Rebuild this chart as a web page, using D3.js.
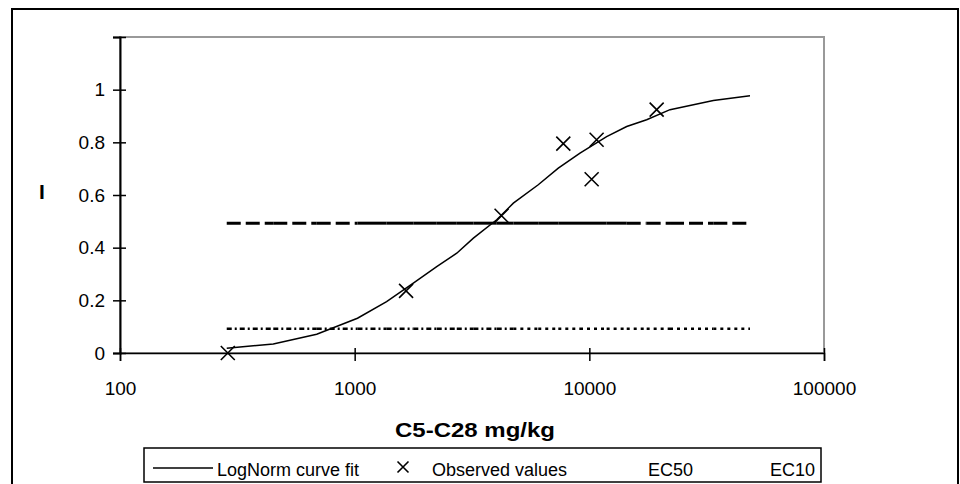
<!DOCTYPE html>
<html>
<head>
<meta charset="utf-8">
<script src="https://cdn.jsdelivr.net/npm/d3@7/dist/d3.min.js"></script>
<style>
    body { margin: 0; background: #fff; }
    svg text { font-family: "Liberation Sans", Arial, sans-serif; fill: #000; }
</style>
</head>
<body>
<div id="chart"></div>
<script>
// Data
var curveX = [285, 450, 689, 1028, 1368, 1778, 2237, 2723, 3206, 4030, 4745, 6058,
    7375, 9125, 11850, 14430, 17550, 22070, 33760, 48380];
var curveY = [0.018, 0.034, 0.071, 0.132, 0.195, 0.265, 0.328, 0.379, 0.436, 0.506, 0.569, 0.639,
    0.702, 0.759, 0.822, 0.860, 0.886, 0.924, 0.959, 0.977];
var obsX = [288, 1656, 4227, 7745, 10230, 10740, 19360];
var obsY = [0.0, 0.236, 0.521, 0.795, 0.660, 0.810, 0.924];
var ec50 = 0.493;
var ec10 = 0.092;
var xTicks = [100, 1000, 10000, 100000];
var yTicks = [0, 0.2, 0.4, 0.6, 0.8, 1, 1.2];
var legendLabels = ["LogNorm curve fit", "Observed values", "EC50", "EC10"];

var width = 960, height = 484;
var svg = d3.select("#chart").append("svg")
    .attr("width", width)
    .attr("height", height);

// outer chart border
svg.append("rect")
    .attr("x", 12).attr("y", 9)
    .attr("width", 946).attr("height", 520)
    .attr("fill", "none").attr("stroke", "#000").attr("stroke-width", 2);

var x = d3.scaleLog().domain([100, 100000]).range([120, 824]);
var y = d3.scaleLinear().domain([0, 1.2]).range([353, 37]);

// plot area frame (grey)
svg.append("rect")
    .attr("x", 120).attr("y", 37)
    .attr("width", 704).attr("height", 316)
    .attr("fill", "none").attr("stroke", "#999").attr("stroke-width", 2);

// x axis
var xAxis = svg.append("g")
    .attr("transform", "translate(0,353)")
    .call(d3.axisBottom(x).tickValues(xTicks).tickFormat(d3.format("d"))
        .tickSize(8).tickPadding(21));
xAxis.select(".domain").attr("stroke", "#000").attr("stroke-width", 1.5);
xAxis.selectAll(".tick line").attr("y1", -5).attr("stroke-width", 1.5);
xAxis.selectAll("text").style("font-size", "19px");

// y axis
var yAxis = svg.append("g")
    .attr("transform", "translate(120,0)")
    .call(d3.axisLeft(y).tickValues(yTicks)
        .tickFormat(d => d > 1 ? "" : d3.format("~g")(d))
        .tickSize(7).tickPadding(8));
yAxis.select(".domain").attr("stroke-width", 2);
yAxis.selectAll(".tick line").attr("x1", 6).attr("stroke-width", 1.5);
yAxis.selectAll("text").style("font-size", "19px");

// EC lines, drawn segment by segment through the curve's x values
function ecLine(value, width, dashFor) {
    for (var i = 0; i < curveX.length - 1; i++) {
        svg.append("line")
            .attr("x1", x(curveX[i])).attr("x2", x(curveX[i + 1]))
            .attr("y1", y(value)).attr("y2", y(value))
            .attr("stroke", "#000").attr("stroke-width", width)
            .attr("stroke-dasharray", dashFor(i));
    }
}
ecLine(ec50, 3, i => (i < 3 || i >= 15) ? "14,5" : null);
ecLine(ec10, 2.5, i => (i < 10) ? "5,3,2,3" : "3,4");

// fitted curve
var curve = d3.zip(curveX, curveY);
svg.append("path")
    .datum(curve)
    .attr("d", d3.line().x(d => x(d[0])).y(d => y(d[1])))
    .attr("fill", "none").attr("stroke", "#000").attr("stroke-width", 1.5);

// observed values as crosses
function cross(g, cx, cy, r) {
    g.append("path")
        .attr("d", `M${cx - r},${cy - r}L${cx + r},${cy + r}M${cx - r},${cy + r}L${cx + r},${cy - r}`)
        .attr("stroke", "#000").attr("stroke-width", 1.6).attr("fill", "none");
}
d3.zip(obsX, obsY).forEach(d => cross(svg, x(d[0]), y(d[1]), 7));

// axis titles
svg.append("text")
    .attr("x", 475).attr("y", 437)
    .attr("text-anchor", "middle")
    .attr("textLength", 160).attr("lengthAdjust", "spacingAndGlyphs")
    .style("font-size", "21px").style("font-weight", "bold")
    .text("C5-C28 mg/kg");
svg.append("text")
    .attr("x", 42).attr("y", 199)
    .attr("text-anchor", "middle")
    .style("font-size", "21px").style("font-weight", "bold")
    .text("I");

// legend
var legend = svg.append("g");
legend.append("rect")
    .attr("x", 144).attr("y", 448)
    .attr("width", 677).attr("height", 34)
    .attr("fill", "#fff").attr("stroke", "#000").attr("stroke-width", 1.5);
legend.append("line")
    .attr("x1", 153).attr("x2", 213).attr("y1", 468).attr("y2", 468)
    .attr("stroke", "#000").attr("stroke-width", 1.5);
cross(legend, 403, 467, 5.5);
var legendX = [217, 432, 648, 770];
legend.selectAll("text.leg")
    .data(legendLabels)
    .enter().append("text")
    .attr("class", "leg")
    .attr("x", (d, i) => legendX[i])
    .attr("y", 476)
    .style("font-size", "18px")
    .text(d => d);
</script>
</body>
</html>
